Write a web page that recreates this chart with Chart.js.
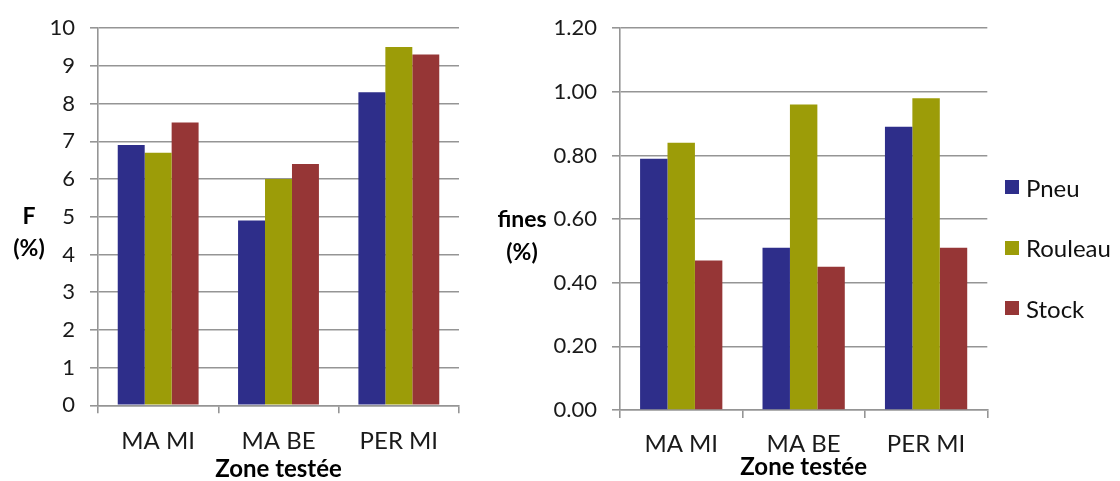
<!DOCTYPE html>
<html>
<head>
<meta charset="utf-8">
<script src="https://cdn.jsdelivr.net/npm/chart.js@4.4.0/dist/chart.umd.min.js"></script>
<style>
  html, body { margin: 0; padding: 0; background: #fff; }
  body { position: relative; width: 1120px; height: 481px; overflow: hidden; font-family: Lato, sans-serif; }
  .panel { position: absolute; top: 0; height: 481px; }
  #panelF { left: 0; width: 480px; }
  #panelFines { left: 480px; width: 640px; }
  #legend { position: absolute; left: 1005px; top: 157px; margin: 0; padding: 0; list-style: none; }
  #legend li { display: flex; align-items: center; height: 60.5px; font-size: 24px; color: #111; }
  #legend .swatch { width: 14px; height: 14px; margin-right: 7px; }
</style>
</head>
<body>
<div class="panel" id="panelF"><canvas id="chartF" width="480" height="481"></canvas></div>
<div class="panel" id="panelFines"><canvas id="chartFines" width="640" height="481"></canvas></div>
<ul id="legend"></ul>
<script>
const zones = ['MA MI', 'MA BE', 'PER MI'];
const seriesNames = ['Pneu', 'Rouleau', 'Stock'];
const seriesColors = ['#2e2e8a', '#9c9c08', '#963636'];

// F (%) per zone
const fPneu = [6.9, 4.9, 8.3];
const fRouleau = [6.7, 6.0, 9.5];
const fStock = [7.5, 6.4, 9.3];

// fines (%) per zone
const finesPneu = [0.79, 0.51, 0.89];
const finesRouleau = [0.84, 0.96, 0.98];
const finesStock = [0.47, 0.45, 0.51];

const xTitle = 'Zone testée';
const gridColor = '#959595';
const textColor = '#1a1a1a';
const fontFamily = 'Lato, sans-serif';

// horizontal two-line title on the left of the value axis
const sideTitle = {
  id: 'sideTitle',
  afterDraw(chart, args, opts) {
    const ctx = chart.ctx;
    ctx.save();
    ctx.font = 'bold 23px ' + fontFamily;
    ctx.fillStyle = '#000';
    ctx.textAlign = 'center';
    ctx.textBaseline = 'middle';
    opts.lines.forEach((t, i) => ctx.fillText(t, opts.x, opts.y + i * opts.gap));
    ctx.restore();
  }
};

function makeDatasets(values) {
  return values.map((v, i) => ({
    label: seriesNames[i],
    data: v,
    backgroundColor: seriesColors[i],
    categoryPercentage: 0.672,
    barPercentage: 1.0
  }));
}

function makeOptions(cfg) {
  return {
    responsive: false,
    animation: false,
    layout: { padding: cfg.padding },
    plugins: {
      legend: { display: false },
      tooltip: { enabled: false },
      sideTitle: cfg.side
    },
    scales: {
      x: {
        grid: { offset: true, drawOnChartArea: false, drawTicks: true, tickLength: 8, color: gridColor, lineWidth: 1.6 },
        border: { display: true, color: gridColor, width: 1.6 },
        ticks: { color: textColor, font: { family: fontFamily, size: 24 }, padding: cfg.xPad, maxRotation: 0 },
        title: { display: true, text: xTitle, color: '#000', font: { family: fontFamily, size: 24, weight: 'bold', lineHeight: 1 }, padding: { top: 0, bottom: cfg.titlePad } },
        afterFit: s => { s.height = cfg.xHeight; }
      },
      y: {
        min: 0,
        max: cfg.max,
        grid: { drawTicks: true, tickLength: 8, color: gridColor, lineWidth: 1.6 },
        border: { display: true, color: gridColor, width: 1.6 },
        ticks: { stepSize: cfg.step, color: textColor, font: { family: fontFamily, size: 22 }, padding: 15, callback: cfg.fmt },
        afterFit: s => { s.width = cfg.yWidth; }
      }
    }
  };
}

new Chart(document.getElementById('chartF'), {
  type: 'bar',
  data: { labels: zones, datasets: makeDatasets([fPneu, fRouleau, fStock]) },
  options: makeOptions({
    padding: { left: 0, top: 24, right: 21, bottom: 0 },
    yWidth: 98, xHeight: 75.7, xPad: 14, titlePad: 0,
    max: 10, step: 1, fmt: v => v,
    side: { lines: ['F', '(%)'], x: 29, y: 217, gap: 32 }
  }),
  plugins: [sideTitle]
});

new Chart(document.getElementById('chartFines'), {
  type: 'bar',
  data: { labels: zones, datasets: makeDatasets([finesPneu, finesRouleau, finesStock]) },
  options: makeOptions({
    padding: { left: 0, top: 19.3, right: 132.7, bottom: 0 },
    yWidth: 140, xHeight: 71, xPad: 12, titlePad: 2,
    max: 1.2, step: 0.2, fmt: v => Number(v).toFixed(2),
    side: { lines: ['fines', '(%)'], x: 42, y: 220, gap: 33 }
  }),
  plugins: [sideTitle]
});

// legend to the right of the fines chart
const legend = document.getElementById('legend');
seriesNames.forEach((name, i) => {
  const li = document.createElement('li');
  const sw = document.createElement('span');
  sw.className = 'swatch';
  sw.style.background = seriesColors[i];
  li.appendChild(sw);
  li.appendChild(document.createTextNode(name));
  legend.appendChild(li);
});
</script>
</body>
</html>
